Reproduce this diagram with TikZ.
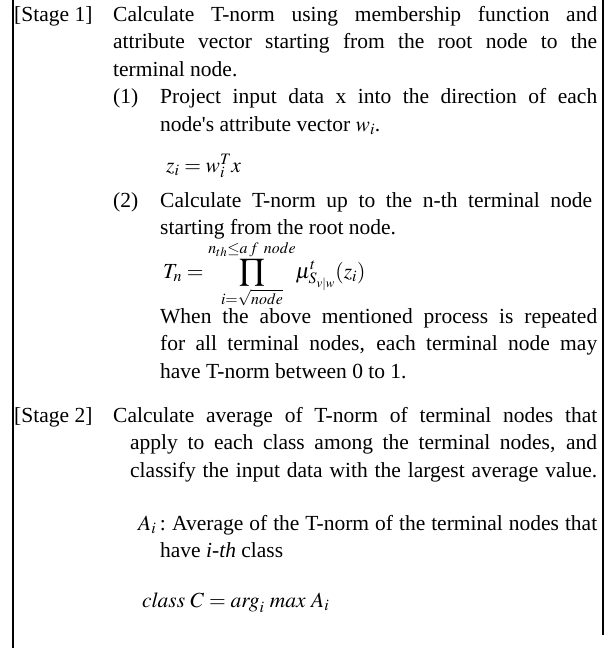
\documentclass[tikz,border=0pt]{standalone}
\usepackage{mathptmx}
\usepackage[no-math]{fontspec}
\setmainfont{Liberation Serif}
\newfontfamily\plainq{Liberation Serif}
\newcommand\jline[4]{\node[txt] (#1) at (#2,#3) {\makebox[\dimexpr 597pt-#2pt\relax][s]{#4}};}
\begin{document}
\begin{tikzpicture}[x=1pt,y=-1pt,
  txt/.style={anchor=base west,inner sep=0pt,font=\fontsize{21.5}{27}\selectfont},
  rulestyle/.style={line width=1.2pt}]
\useasboundingbox (0,0) rectangle (607,648);
\coordinate (tl) at (13,0); \coordinate (bl) at (13,648);
\coordinate (tr) at (603,0); \coordinate (br) at (603,635);
\draw[rulestyle] (tl) -- (bl);
\draw[rulestyle] (tr) -- (br);
% Stage 1
\node[txt] (s1) at (14,21) {[Stage 1]};
\jline{a1}{113}{21}{Calculate T-norm using membership function and}
\jline{a2}{113}{48.5}{attribute vector starting from the root node to the}
\node[txt] (a3) at (113,76) {terminal node.};
\node[txt] (e1) at (113,103.5) {(1)};
\jline{b1}{160}{103.5}{Project input data x into the direction of each}
\node[txt] (b2) at (160,131) {node{\plainq'}s attribute vector $w_i$.};
\node[txt] (f1) at (166,172) {$z_i = w_i^T x$};
\node[txt] (e2) at (113,207) {(2)};
\node[txt] (c1) at (160,207) {\makebox[432pt][s]{Calculate T-norm up to the n-th terminal node}};
\node[txt] (c2) at (160,234) {starting from the root node.};
\node[txt] (f2) at (163,278) {$T_n = \displaystyle\prod_{i=\sqrt{node}}^{n_{th}\le a\,f\ node}\!\mu^{t}_{S_{v|w}}(z_i)$};
\jline{d1}{160}{323}{When the above mentioned process is repeated}
\jline{d2}{160}{350.5}{for all terminal nodes, each terminal node may}
\node[txt] (d3) at (160,378) {have T-norm between 0 to 1.};
% Stage 2
\node[txt] (s2) at (14,422) {[Stage 2]};
\jline{g1}{113}{422}{Calculate average of T-norm of terminal nodes that}
\jline{g2}{130}{449.5}{apply to each class among the terminal nodes, and}
\jline{g3}{130}{477}{classify the input data with the largest average value.}
\node[txt] (h0) at (138,530) {$A_i$\,:};
\jline{h1}{172}{530}{Average of the T-norm of the terminal nodes that}
\node[txt] (h2) at (160,557) {have \textit{i-th} class};
\node[txt] (f3) at (142,607) {$\mathit{class}\ C = \mathit{arg}_i\ \mathit{max}\ A_i$};
\end{tikzpicture}
\end{document}
